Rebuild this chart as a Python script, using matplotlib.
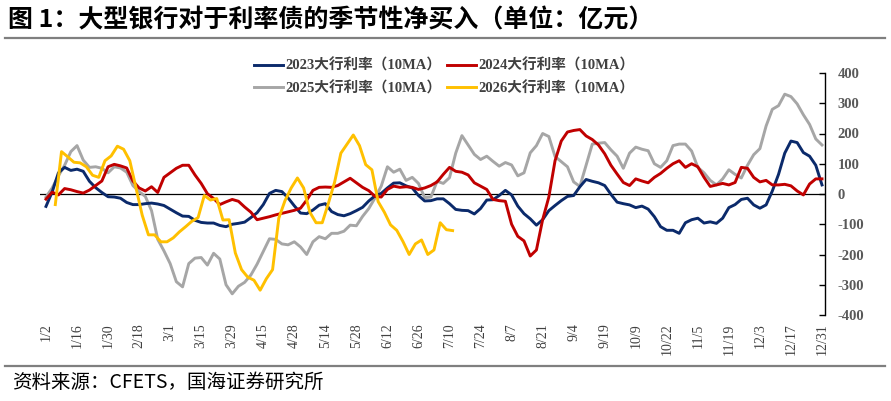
import numpy as np
import matplotlib
matplotlib.use('Agg')
import matplotlib.pyplot as plt
from matplotlib.lines import Line2D
from matplotlib import font_manager as fm

plt.rcParams['font.family'] = ['Liberation Serif', 'Noto Sans CJK SC']

serif_reg = fm.FontProperties(fname=fm.findfont(fm.FontProperties(family='Liberation Serif')))
serif_bold = fm.FontProperties(fname=fm.findfont(fm.FontProperties(family='Liberation Serif',
                                                                   weight='bold')))

# ---------------- data ----------------
tick_labels = ['1/2', '1/16', '1/30', '2/18', '3/1', '3/15', '3/29', '4/15', '4/28',
               '5/14', '5/28', '6/12', '6/26', '7/10', '7/24', '8/7', '8/21', '9/4',
               '9/19', '10/9', '10/22', '11/5', '11/19', '12/3', '12/17', '12/31']
n_days = 251          # trading-day index 0..250, a label every 10 days
step = 2              # series read every 2 trading days

s2023 = [-41, 7, 70, 88, 78, 82, 75, 42, 21, 5,
         -9, -10, -14, -28, -35, -35, -32, -30, -33, -38,
         -50, -62, -73, -74, -87, -94, -96, -96, -104, -108,
         -100, -97, -93, -78, -62, -35, 2, 12, 8, -13,
         -39, -63, -65, -53, -37, -32, -58, -68, -72, -65,
         -55, -44, -23, -6, 2, 20, 36, 37, 27, 20,
         -5, -23, -22, -16, -16, -32, -51, -54, -55, -66,
         -48, -20, -19, -5, 12, -3, -40, -65, -82, -103,
         -85, -55, -38, -22, -8, -5, 24, 48, 42, 37,
         28, -1, -27, -32, -36, -45, -40, -50, -75, -108,
         -120, -120, -130, -95, -85, -80, -96, -92, -97, -80,
         -45, -35, -18, -14, -36, -47, -36, 10, 65, 135,
         175, 170, 137, 125, 95, 30]

s2024 = [-17, 6, -3, 18, 14, 8, 3, 13, 28, 43,
         90, 98, 93, 86, 43, 20, 10, 24, 5, 55,
         70, 85, 95, 95, 63, 35, 1, -15, -35, -26,
         -18, -24, -43, -60, -85, -80, -75, -69, -64, -59,
         -54, -47, -20, 12, 22, 23, 22, 28, 40, 52,
         37, 22, 11, -8, -10, 15, 26, 22, 24, 22,
         15, 20, 28, 40, 65, 88, 75, 72, 63, 37,
         26, 15, -18, -22, -24, -100, -140, -155, -205, -185,
         -85, -10, 110, 175, 205, 210, 213, 192, 180, 162,
         133, 95, 66, 38, 28, 50, 43, 37, 55, 68,
         85, 100, 110, 88, 100, 90, 55, 25, 30, 35,
         30, 38, 88, 85, 55, 40, 45, 30, 30, 32,
         27, 10, -3, 33, 50, 50]

s2025 = [-10, 20, 60, 95, 140, 160, 112, 88, 90, 85,
         70, 90, 86, 72, 28, 8, -8, -55, -150, -188,
         -230, -290, -307, -230, -212, -210, -235, -196, -215, -300,
         -330, -305, -292, -268, -232, -190, -148, -150, -165, -168,
         -158, -175, -200, -158, -141, -148, -130, -130, -123, -103,
         -105, -74, -48, -13, 26, 90, 72, 82, 45, 55,
         35, -12, -10, 42, 35, 54, 135, 193, 162, 131,
         114, 125, 108, 92, 104, 96, 60, 70, 136, 160,
         200, 190, 124, 107, 90, 40, 25, 95, 165, 168,
         170, 146, 125, 85, 135, 155, 148, 143, 100, 88,
         110, 160, 165, 165, 142, 88, 70, 45, 30, 50,
         80, 65, 53, 95, 130, 150, 225, 280, 292, 330,
         322, 298, 262, 230, 182, 162]

start2026 = 3         # first 2026 reading at trading-day index 3
s2026 = [-35, 140, 123, 105, 103, 90, 62, 55, 110, 126,
         158, 148, 110, 20, -70, -135, -135, -158, -158, -145,
         -125, -108, -90, -78, -5, -20, -15, -86, -85, -195,
         -250, -275, -285, -318, -280, -250, -80, -22, 20, 53,
         20, -60, -95, -95, -30, 40, 135, 165, 195, 160,
         97, 80, -25, -60, -102, -120, -157, -200, -165, -152,
         -200, -185, -95, -118, -121]

labels = ['2023大行利率（10MA）', '2024大行利率（10MA）',
          '2025大行利率（10MA）', '2026大行利率（10MA）']
colors = {'2023': '#0B2A6B', '2024': '#C00000', '2025': '#A6A6A6', '2026': '#FFC000'}

# ---------------- figure ----------------
W, H = 891, 401
fig = plt.figure(figsize=(W / 100, H / 100), dpi=100)
fig.patch.set_facecolor('white')

L, R, T, B = 40, 825, 73, 315
ax = fig.add_axes([L / W, 1 - B / H, (R - L) / W, (B - T) / H])

x_main = np.arange(0, n_days, step)
x_2026 = np.arange(start2026, start2026 + step * len(s2026), step)

lw = 2.1
ax.axhline(0, color='black', lw=0.9, zorder=1)
l25, = ax.plot(x_main, s2025, color=colors['2025'], lw=lw, zorder=2)
l23, = ax.plot(x_main, s2023, color=colors['2023'], lw=lw, zorder=3)
l24, = ax.plot(x_main, s2024, color=colors['2024'], lw=lw, zorder=4)
l26, = ax.plot(x_2026, s2026, color=colors['2026'], lw=lw, zorder=5)

ax.set_xlim(-1.93, 250.97)
ax.set_ylim(-400, 400)
ax.yaxis.tick_right()
for side in ['left', 'top', 'bottom']:
    ax.spines[side].set_visible(False)
ax.spines['right'].set_color('black')
ax.spines['right'].set_linewidth(1.0)
ax.tick_params(axis='y', direction='in', length=4, width=1, color='black', pad=9,
               labelcolor='#595959')
ax.set_yticks(np.arange(-400, 401, 100))
ax.set_yticklabels([str(v) for v in range(-400, 401, 100)])
for t in ax.get_yticklabels():
    t.set_fontproperties(serif_bold)
    t.set_fontsize(10.5)

ax.set_xticks(np.arange(0, n_days, 10))
ax.set_xticklabels(tick_labels, rotation=90, color='#404040')
for t in ax.get_xticklabels():
    t.set_fontproperties(serif_reg)
    t.set_fontsize(10)
ax.tick_params(axis='x', length=0, pad=6)

# legend
handles = [l23, l25, l24, l26]
leg_labels = [labels[0], labels[2], labels[1], labels[3]]
leg = fig.legend(handles, leg_labels, ncol=2, loc='center',
                 bbox_to_anchor=(444 / W, 1 - 77 / H), frameon=False,
                 prop={'family': ['Liberation Serif', 'Noto Sans CJK SC'],
                       'weight': 'bold', 'size': 10.5},
                 handlelength=2.0, handletextpad=0.15, columnspacing=0.35,
                 labelspacing=0.55)
for t in leg.get_texts():
    t.set_color('#404040')

# title, separators, source
fig.text(8 / W, 1 - 20 / H, '图 1：大型银行对于利率债的季节性净买入（单位：亿元）',
         fontsize=18, fontweight='bold', family=['Noto Sans CJK SC', 'DejaVu Sans'],
         va='center', ha='left', color='black')
fig.add_artist(Line2D([5 / W, 885 / W], [1 - 38 / H, 1 - 38 / H],
                      color='#7F7F7F', lw=1.6))
fig.add_artist(Line2D([5 / W, 885 / W], [1 - 366 / H, 1 - 366 / H],
                      color='#7F7F7F', lw=1.6))
fig.text(12 / W, 1 - 382 / H, '资料来源：CFETS，国海证券研究所',
         fontsize=14, family=['Noto Sans CJK SC', 'DejaVu Sans'],
         va='center', ha='left', color='black')

fig.savefig('out.png', dpi=100)
